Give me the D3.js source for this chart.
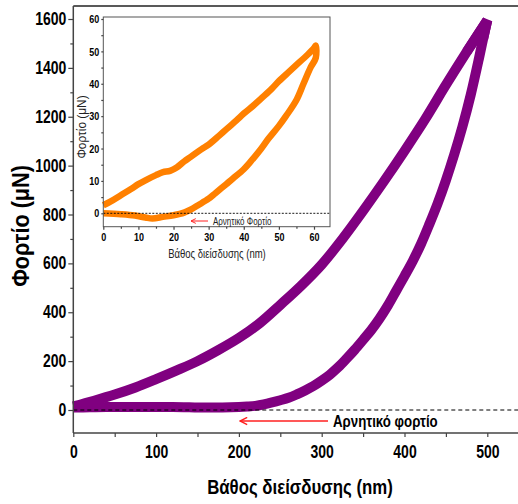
<!DOCTYPE html>
<html><head><meta charset="utf-8">
<script src="https://cdn.jsdelivr.net/npm/d3@7"></script>
<style>
html,body{margin:0;padding:0;background:#fff;}
svg{display:block;}
text{font-family:"Liberation Sans",Arial,Helvetica,sans-serif;}
</style></head>
<body>
<script>
// ---- main chart data (depth nm, force μN) ----
const loadDepth   = [0, 25, 50, 75, 100, 125, 150, 175, 200, 225, 250, 275, 300, 325, 350, 375, 400, 425, 450, 475, 500];
const loadForce   = [15, 38, 63, 92, 126, 162, 200, 245, 295, 355, 430, 508, 595, 700, 815, 935, 1060, 1190, 1330, 1465, 1595];
const unloadDepth = [500, 495, 490, 480, 470, 460, 450, 440, 430, 420, 410, 400, 390, 380, 370, 360, 350, 340, 330, 320, 310, 300, 290, 280, 270, 260, 250, 240, 230, 220, 210, 200, 180, 160, 140, 120, 100, 80, 60, 40, 20, 0];
const unloadForce = [1595, 1520, 1440, 1290, 1160, 1045, 940, 845, 760, 680, 610, 548, 488, 428, 375, 328, 287, 247, 210, 175, 145, 120, 98, 80, 64, 50, 40, 31, 23, 17, 14, 12, 10, 10, 11, 12, 12, 12, 12, 12, 11, 10];
// ---- inset data ----
const inLoadDepth   = [0, 2, 5, 8, 10, 12, 15, 17, 19, 21, 23, 25, 28, 30, 33, 35, 38, 40, 43, 45, 48, 50, 53, 55, 58, 60, 60.5];
const inLoadForce   = [2.5, 3.6, 5.6, 7.6, 9, 10.2, 11.8, 12.7, 13.1, 14.2, 16, 17.5, 19.8, 21.2, 24, 25.9, 28.8, 30.8, 33.5, 35.5, 38.5, 40.8, 43.8, 45.8, 48.8, 51, 51.8];
const inUnDepth     = [60.5, 60.5, 59, 57, 55, 52, 50, 47, 45, 42, 40, 37, 35, 32, 30, 27, 25, 23, 20, 17, 14, 12, 9, 5, 0];
const inUnForce     = [51.8, 48, 45, 40, 35, 30, 27, 23, 20, 16, 13.6, 10.8, 9, 6.3, 4.5, 2.5, 1.2, 0.2, -0.6, -1.1, -1.6, -1.3, -0.7, -0.3, 0];
// ---- ticks ----
const xTicks = [0, 100, 200, 300, 400, 500];
const xMinor = [50, 150, 250, 350, 450];
const yTicks = [0, 200, 400, 600, 800, 1000, 1200, 1400, 1600];
const yMinor = [100, 300, 500, 700, 900, 1100, 1300, 1500];
const inXTicks = [0, 10, 20, 30, 40, 50, 60];
const inXMinor = [5, 15, 25, 35, 45, 55];
const inYTicks = [0, 10, 20, 30, 40, 50, 60];
const inYMinor = [5, 15, 25, 35, 45, 55];

const W = 518, H = 504;
const svg = d3.select("body").append("svg").attr("width", W).attr("height", H);
const defs = svg.append("defs");

// condense text horizontally (narrow face look)
function squeeze(sel, f) {
  sel.each(function () {
    const l = this.getComputedTextLength();
    d3.select(this).attr("textLength", l * f).attr("lengthAdjust", "spacingAndGlyphs");
  });
}

const x = d3.scaleLinear().domain([0, 500]).range([73.3, 487.3]);
const y = d3.scaleLinear().domain([0, 1600]).range([410, 19]);
const axisCol = "#444";

// frame top
svg.append("line").attr("x1", 73.3).attr("x2", W).attr("y1", 6).attr("y2", 6).attr("stroke", "#222").attr("stroke-width", 1.5);

function styleAxis(g, fs, f) {
  g.select(".domain").remove();
  g.selectAll(".tick line").attr("stroke", axisCol).attr("stroke-width", 1.2);
  const t = g.selectAll("text").style("font-size", fs + "px").style("font-weight", "bold").attr("fill", "#000");
  squeeze(t, f);
}

// main curves
const crv = d3.curveCatmullRom.alpha(0.5);
const line = d3.line().x(d => x(d[0])).y(d => y(d[1])).curve(crv);
const lineLin = d3.line().x(d => x(d[0])).y(d => y(d[1]));
const loadPts = loadDepth.map((d, i) => [d, loadForce[i]]);
const unPts = unloadDepth.map((d, i) => [d, unloadForce[i]]);
const purple = "#800080";
svg.append("path").attr("d", line(loadPts)).attr("fill", "none").attr("stroke", purple).attr("stroke-width", 10);
svg.append("path").attr("d", line(unPts)).attr("fill", "none").attr("stroke", purple).attr("stroke-width", 10);
// tip at maximum load
const nL = loadPts.length;
svg.append("path").attr("d", lineLin([loadPts[nL - 2], loadPts[nL - 1], unPts[1]]))
  .attr("fill", "none").attr("stroke", purple).attr("stroke-width", 10).attr("stroke-linejoin", "bevel");

// dashed zero line
svg.append("line").attr("x1", 73.3).attr("x2", W).attr("y1", y(0)).attr("y2", y(0)).attr("stroke", "#000").attr("stroke-width", 1).attr("stroke-dasharray", "4,3");

// axes
const gx = svg.append("g").attr("transform", "translate(0,433)");
gx.call(d3.axisBottom(x).tickValues(xTicks).tickSize(4).tickPadding(9).tickFormat(d3.format("d")));
styleAxis(gx, 17.5, 0.8);
const gxm = svg.append("g").attr("transform", "translate(0,433)");
gxm.call(d3.axisBottom(x).tickValues(xMinor).tickSize(4).tickFormat(""));
styleAxis(gxm, 17, 1);
svg.append("line").attr("x1", 73.3).attr("x2", W).attr("y1", 433).attr("y2", 433).attr("stroke", axisCol).attr("stroke-width", 1.5);

const gy = svg.append("g").attr("transform", "translate(73.3,0)");
gy.call(d3.axisLeft(y).tickValues(yTicks).tickSize(5).tickPadding(2).tickFormat(d3.format("d")));
styleAxis(gy, 17.5, 0.8);
const gym = svg.append("g").attr("transform", "translate(73.3,0)");
gym.call(d3.axisLeft(y).tickValues(yMinor).tickSize(3).tickFormat(""));
styleAxis(gym, 17, 1);
svg.append("line").attr("x1", 73.3).attr("x2", 73.3).attr("y1", 6).attr("y2", 433).attr("stroke", axisCol).attr("stroke-width", 1.5);

// axis titles
const xt = svg.append("text").attr("x", 300).attr("y", 494).attr("text-anchor", "middle")
  .style("font-size", "21px").style("font-weight", "bold").text("Βάθος διείσδυσης (nm)");
squeeze(xt, 0.8);
const yt = svg.append("text").attr("transform", "translate(29,226) rotate(-90)").attr("text-anchor", "middle")
  .style("font-size", "24px").style("font-weight", "bold").text("Φορτίο (μΝ)");
squeeze(yt, 0.9);

// arrow + annotation main
function arrowMarker(id, size) {
  defs.append("marker").attr("id", id).attr("viewBox", "0 0 10 10").attr("refX", 9).attr("refY", 5)
    .attr("markerWidth", size).attr("markerHeight", size).attr("orient", "auto").attr("markerUnits", "userSpaceOnUse")
    .append("path").attr("d", "M1,1 L9,5 L1,9").attr("fill", "none").attr("stroke", "#ff2020").attr("stroke-width", 1.6);
}
arrowMarker("ah", 9);
arrowMarker("ah2", 6);
svg.append("line").attr("x1", 328).attr("x2", 240).attr("y1", 421).attr("y2", 421).attr("stroke", "#ff2020").attr("stroke-width", 1.5).attr("marker-end", "url(#ah)");
const an = svg.append("text").attr("x", 333).attr("y", 427).style("font-size", "17px").style("font-weight", "bold").text("Αρνητικό φορτίο");
squeeze(an, 0.78);

// ---- inset ----
const xi = d3.scaleLinear().domain([0, 60]).range([103.3, 314]);
const yi = d3.scaleLinear().domain([0, 60]).range([213.3, 19]);
const iL = 103.3, iR = 330, iT = 17, iB = 226.7;
svg.append("rect").attr("x", iL).attr("y", iT).attr("width", iR - iL).attr("height", iB - iT).attr("fill", "#fff");

const lineI = d3.line().x(d => xi(d[0])).y(d => yi(d[1])).curve(crv);
const inPts = inLoadDepth.map((d, i) => [d, inLoadForce[i]]).concat(inUnDepth.map((d, i) => [d, inUnForce[i]]).slice(1));
svg.append("path").attr("d", lineI(inPts)).attr("fill", "none").attr("stroke", "#ff8000").attr("stroke-width", 6.5).attr("stroke-linejoin", "round");

svg.append("line").attr("x1", iL).attr("x2", iR).attr("y1", yi(0)).attr("y2", yi(0)).attr("stroke", "#000").attr("stroke-width", 0.9).attr("stroke-dasharray", "2,1.5");

svg.append("rect").attr("x", iL).attr("y", iT).attr("width", iR - iL).attr("height", iB - iT).attr("fill", "none").attr("stroke", "#555").attr("stroke-width", 1);

const gxi = svg.append("g").attr("transform", `translate(0,${iB})`);
gxi.call(d3.axisBottom(xi).tickValues(inXTicks).tickSize(3).tickPadding(3).tickFormat(d3.format("d")));
styleAxis(gxi, 11.5, 0.78);
const gxim = svg.append("g").attr("transform", `translate(0,${iB})`);
gxim.call(d3.axisBottom(xi).tickValues(inXMinor).tickSize(2).tickFormat(""));
styleAxis(gxim, 11, 1);
const gyi = svg.append("g").attr("transform", `translate(${iL},0)`);
gyi.call(d3.axisLeft(yi).tickValues(inYTicks).tickSize(2).tickPadding(2).tickFormat(d3.format("d")));
styleAxis(gyi, 11.5, 0.78);
const gyim = svg.append("g").attr("transform", `translate(${iL},0)`);
gyim.call(d3.axisLeft(yi).tickValues(inYMinor).tickSize(2).tickFormat(""));
styleAxis(gyim, 11, 1);

const ixt = svg.append("text").attr("x", 217).attr("y", 258).attr("text-anchor", "middle")
  .style("font-size", "12.5px").attr("fill", "#222").text("Βάθος διείσδυσης (nm)");
squeeze(ixt, 0.76);
const iyt = svg.append("text").attr("transform", "translate(86,127) rotate(-90)").attr("text-anchor", "middle")
  .style("font-size", "12.5px").attr("fill", "#222").text("Φορτίο (μΝ)");
squeeze(iyt, 0.95);

svg.append("line").attr("x1", 208).attr("x2", 191).attr("y1", 221).attr("y2", 221).attr("stroke", "#ff2020").attr("stroke-width", 1).attr("marker-end", "url(#ah2)");
const ian = svg.append("text").attr("x", 213).attr("y", 224.5).style("font-size", "10.5px").attr("fill", "#222").text("Αρνητικό Φορτίο");
squeeze(ian, 0.76);
</script>
</body></html>
